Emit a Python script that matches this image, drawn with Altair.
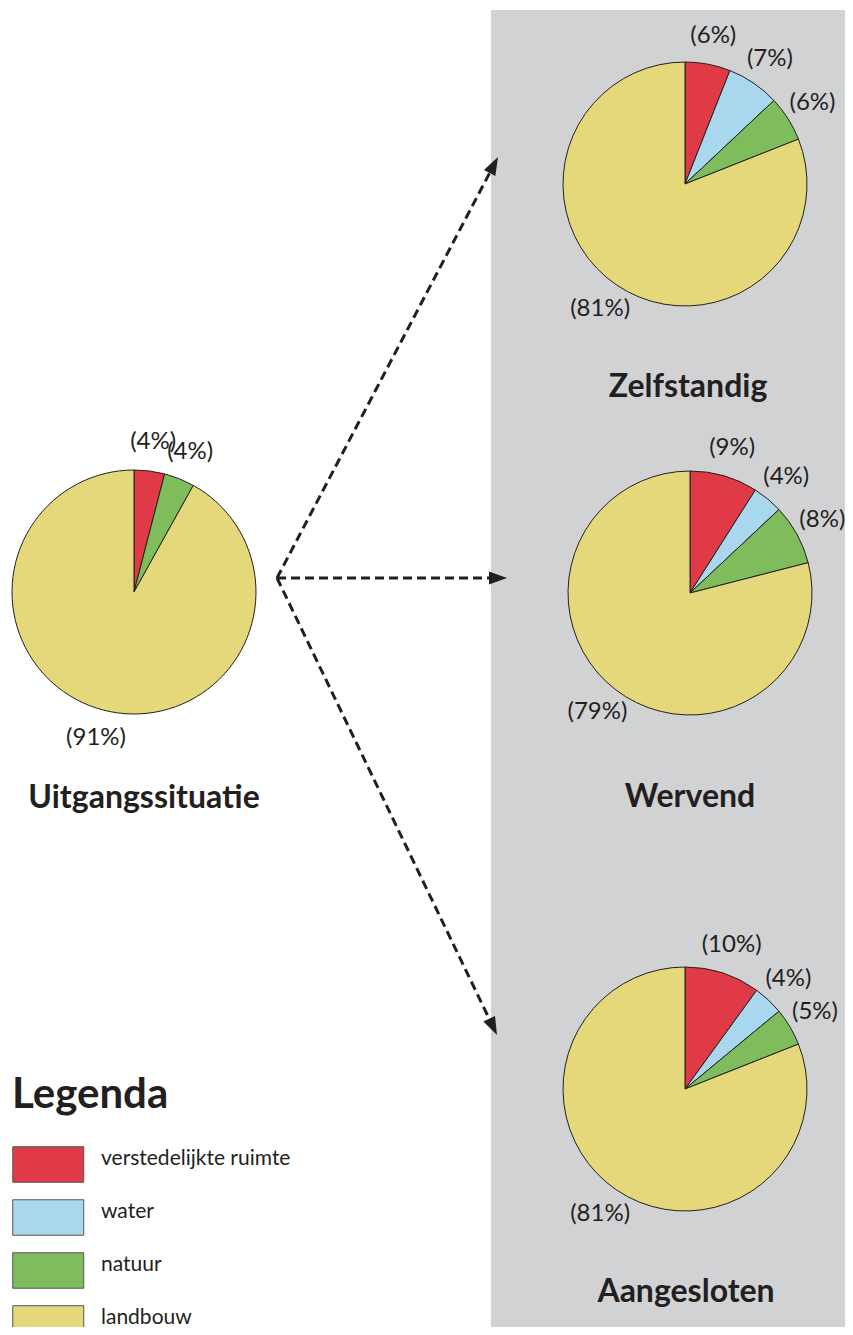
import math
import altair as alt
import pandas as pd

# ---------------- data ----------------
categories = ["verstedelijkte ruimte", "water", "natuur", "landbouw"]
colors = ["#E03A46", "#A9D8EE", "#7FBD5C", "#E4D87B"]
scenarios = ["Uitgangssituatie", "Zelfstandig", "Wervend", "Aangesloten"]
uitgangssituatie = [4, 0, 4, 91]
zelfstandig = [6, 7, 6, 81]
wervend = [9, 4, 8, 79]
aangesloten = [10, 4, 5, 81]

rows = []
for s, vals in zip(scenarios, [uitgangssituatie, zelfstandig, wervend, aangesloten]):
    for i, (c, v) in enumerate(zip(categories, vals)):
        if v > 0:
            rows.append({"scenario": s, "categorie": c, "volgorde": i,
                         "aandeel": v, "label": f"({v}%)"})
df = pd.DataFrame(rows)

# ---------------- layout (page pixels) ----------------
M = 8
W, H = 837, 1319
R = 122
LABEL_R = 151
FONT = "Lato"
INK = "#231F20"
centers = {"Uitgangssituatie": (134, 592), "Zelfstandig": (685, 184),
           "Wervend": (690, 593), "Aangesloten": (685, 1089)}
title_pos = {"Uitgangssituatie": (144, 808), "Zelfstandig": (688, 397),
             "Wervend": (690, 807), "Aangesloten": (686, 1302)}
arrow_origin = (277, 578)
arrow_tips = [(498, 157), (507, 578), (497, 1035)]
HEAD_LEN = 18


def px(v):
    return v - M


one = pd.DataFrame({"k": [0]})

layers = []

# grey panel
layers.append(
    alt.Chart(one).mark_rect(color="#D1D2D4").encode(
        x=alt.value(px(491)), x2=alt.value(W), y=alt.value(px(10)), y2=alt.value(H)
    )
)

# arrows
ox, oy = arrow_origin
for tx, ty in arrow_tips:
    dx, dy = tx - ox, ty - oy
    L = math.hypot(dx, dy)
    ux, uy = dx / L, dy / L
    bx, by = tx - ux * HEAD_LEN, ty - uy * HEAD_LEN
    ang = math.degrees(math.atan2(ux, -uy)) % 360
    layers.append(
        alt.Chart(one).mark_rule(color=INK, strokeWidth=3, strokeDash=[9, 5]).encode(
            x=alt.value(px(ox)), y=alt.value(px(oy)),
            x2=alt.value(px(bx)), y2=alt.value(px(by))
        )
    )
    cxh, cyh = tx - ux * HEAD_LEN / 2, ty - uy * HEAD_LEN / 2
    layers.append(
        alt.Chart(one).mark_point(
            shape="M0,-1L-0.72,1L0.72,1Z", size=324, filled=True, opacity=1,
            color=INK, angle=ang
        ).encode(x=alt.value(px(cxh)), y=alt.value(px(cyh)))
    )

legend = alt.Legend(
    title="Legenda", orient="none", legendX=px(12), legendY=px(1075),
    titleFont=FONT, titleFontSize=42, titleFontWeight="bold", titleColor=INK,
    titlePadding=29, titleAnchor="start", titleLimit=0,
    symbolType="M-1,-1H3V1H-1Z", symbolSize=1260, symbolStrokeColor="#555555",
    symbolStrokeWidth=1, symbolOpacity=1,
    labelFont=FONT, labelFontSize=21, labelColor=INK, labelOffset=52,
    labelBaseline="alphabetic", labelLimit=0, rowPadding=12, padding=0,
)

color_scale = alt.Scale(domain=categories, range=colors)

for idx, s in enumerate(scenarios):
    cx, cy = centers[s]
    base = alt.Chart(df).transform_filter(alt.datum.scenario == s)
    theta = alt.Theta("aandeel:Q", stack="normalize")
    order = alt.Order("volgorde:Q")
    layers.append(
        base.mark_arc(outerRadius=R, stroke=INK, strokeWidth=1).encode(
            x=alt.value(px(cx)), y=alt.value(px(cy)),
            theta=theta, order=order,
            color=alt.Color("categorie:N", scale=color_scale,
                            legend=legend if idx == 0 else None),
        )
    )
    layers.append(
        base.mark_text(radius=LABEL_R, font=FONT, fontSize=24, color=INK,
                       align="center", baseline="middle").encode(
            x=alt.value(px(cx)), y=alt.value(px(cy)),
            theta=theta, order=order, text="label:N",
        )
    )
    tx, ty = title_pos[s]
    layers.append(
        alt.Chart(pd.DataFrame({"titel": [s]})).mark_text(
            font=FONT, fontSize=32, fontWeight="bold", color=INK,
            align="center", baseline="alphabetic"
        ).encode(text="titel:N", x=alt.value(px(tx)), y=alt.value(px(ty)))
    )

chart = alt.layer(*layers).properties(
    width=W, height=H, padding=0,
    autosize=alt.AutoSizeParams(type="none"),
    background="white",
).configure_view(stroke=None)

chart.save("out.html", embed_options={"renderer": "svg", "actions": False})
